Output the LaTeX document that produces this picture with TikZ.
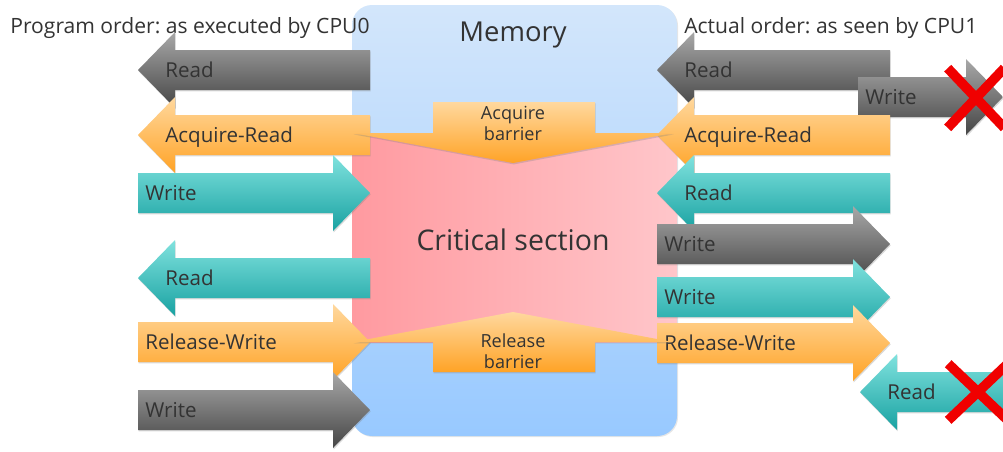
\documentclass[tikz,border=0pt]{standalone}
\usepackage{fontspec}
\setmainfont{Open Sans}
\usetikzlibrary{shapes.misc, shadows}
\frenchspacing

% left-pointing block arrow: name, fill style, tip x, tail x, centre y, label
\newcommand{\arrowL}[6]{%
    \shade[#2, arrowbody] (#3,#5) -- (#3+37,#5-38) -- (#3+37,#5-20) -- (#4,#5-20)
        -- (#4,#5+20) -- (#3+37,#5+20) -- (#3+37,#5+38) -- cycle;
    \node[arrowlabel] (#1) at (#3+27,#5+2) {#6};
}
% right-pointing block arrow: name, fill style, tail x, tip x, centre y, label
\newcommand{\arrowR}[6]{%
    \shade[#2, arrowbody] (#3,#5-20) -- (#4-37,#5-20) -- (#4-37,#5-38) -- (#4,#5)
        -- (#4-37,#5+38) -- (#4-37,#5+20) -- (#3,#5+20) -- cycle;
    \node[arrowlabel] (#1) at (#3+7,#5+2) {#6};
}

\begin{document}
\begin{tikzpicture}[
    x=0.02cm, y=-0.02cm,
    arrowbody/.style={drop shadow={shadow xshift=0.4pt, shadow yshift=-0.8pt, opacity=0.3}},
    arrowlabel/.style={anchor=west, inner sep=0pt, text=textgray,
        font=\fontsize{11.7}{14}\selectfont, text height=1.5ex, text depth=0.3ex},
    grayfill/.style={top color=graytop, bottom color=graybot},
    orangefill/.style={top color=orangetop, bottom color=orangebot},
    tealfill/.style={top color=tealtop, bottom color=tealbot},
    redcross/.style={cross out, draw=crossred, line width=5.5pt, inner sep=0pt}
]
    \useasboundingbox (0,0) rectangle (1003,451);

    % ==========================================
    % colours
    % ==========================================
    \definecolor{textgray}{HTML}{333333}
    \definecolor{graytop}{HTML}{A8A8A8}
    \definecolor{graybot}{HTML}{454545}
    \definecolor{orangetop}{HTML}{FFD89E}
    \definecolor{orangebot}{HTML}{FFA326}
    \definecolor{tealtop}{HTML}{80E2DE}
    \definecolor{tealbot}{HTML}{19A2A2}
    \definecolor{memtop}{HTML}{D3E6FB}
    \definecolor{membot}{HTML}{98C9FF}
    \definecolor{pinkleft}{HTML}{FF9AA0}
    \definecolor{pinkright}{HTML}{FFC6CA}
    \definecolor{crossred}{HTML}{F00000}

    % ==========================================
    % Memory block with critical section
    % ==========================================
    \shade[top color=memtop, bottom color=membot, rounded corners=0.4cm,
        drop shadow={shadow xshift=0.6pt, shadow yshift=-0.6pt, opacity=0.2}]
        (352,5) rectangle (677,436);
    \shade[left color=pinkleft, right color=pinkright] (352,133) rectangle (677,342);

    \node[text=textgray, font=\fontsize{15.6}{18}\selectfont] (memory) at (513,35) {Memory};
    \node[text=textgray, font=\fontsize{16.2}{19}\selectfont] (critical) at (513,240) {Critical section};

    % headings
    \node[anchor=base west, inner sep=0pt, text=textgray, font=\fontsize{12}{14}\selectfont]
        (cpu0) at (10,33) {Program order: as executed by CPU0};
    \node[anchor=base west, inner sep=0pt, text=textgray, font=\fontsize{12}{14}\selectfont]
        (cpu1) at (684,33) {Actual order: as seen by CPU1};

    % ==========================================
    % CPU0: program order
    % ==========================================
    \arrowL{pread1}{grayfill}{138}{370}{70}{Read}
    \arrowL{pacq}{orangefill}{138}{370}{135}{Acquire-Read}
    \arrowR{pwrite1}{tealfill}{138}{370}{193}{Write}
    \arrowL{pread2}{tealfill}{138}{370}{278}{Read}
    \arrowR{prel}{orangefill}{138}{370}{342}{Release-Write}
    \arrowR{pwrite2}{grayfill}{138}{370}{410}{Write}

    % ==========================================
    % CPU1: actual order
    % ==========================================
    \arrowL{aread1}{grayfill}{657}{890}{70}{Read}
    \arrowR{awrite0}{grayfill}{858}{1003}{97}{Write}
    \arrowL{aacq}{orangefill}{657}{890}{135}{Acquire-Read}
    \arrowL{aread2}{tealfill}{657}{890}{193}{Read}
    \arrowR{awrite1}{grayfill}{657}{890}{244}{Write}
    \arrowR{awrite2}{tealfill}{657}{890}{297}{Write}
    \arrowR{arel}{orangefill}{657}{890}{343}{Release-Write}
    \arrowL{aread3}{tealfill}{860}{1010}{392}{Read}

    % ==========================================
    % barriers
    % ==========================================
    \shade[orangefill, arrowbody] (433,102) -- (595,102) -- (595,133) -- (673,133)
        -- (513,163) -- (353,133) -- (433,133) -- cycle;
    \node[text=textgray, align=center, font=\fontsize{10.3}{12}\selectfont] (acqbar) at (513,123) {Acquire\\barrier};

    \shade[orangefill, arrowbody] (353,342) -- (513,312) -- (673,342) -- (595,342)
        -- (595,372) -- (433,372) -- (433,342) -- cycle;
    \node[text=textgray, align=center, font=\fontsize{10.3}{12}\selectfont] (relbar) at (513,351) {Release\\barrier};

    % forbidden reorderings
    \node[redcross, minimum width=0.94cm, minimum height=1cm] (cross1) at (976,98) {};
    \node[redcross, minimum width=1cm, minimum height=0.94cm] (cross2) at (978,392) {};

\end{tikzpicture}
\end{document}
